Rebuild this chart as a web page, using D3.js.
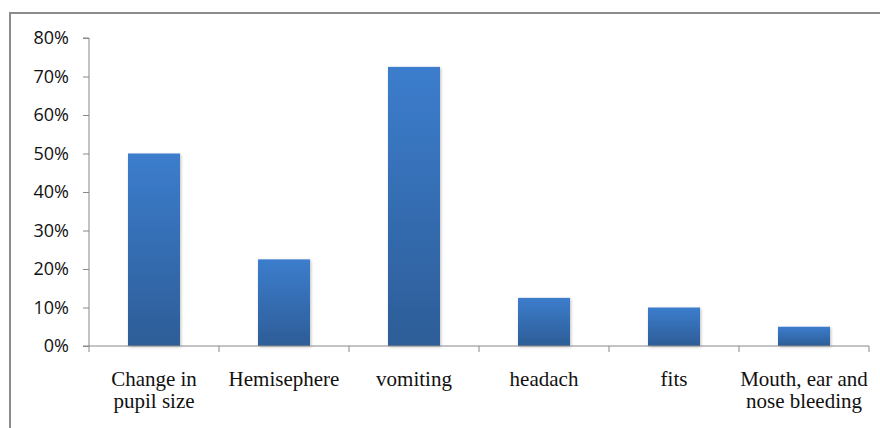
<!DOCTYPE html>
<meta charset="utf-8">
<style>
  body { margin: 0; background: #fff; }
</style>
<script src="https://d3js.org/d3.v7.min.js"></script>
<div id="chart"></div>
<script>

// data
const categories = [["Change in", "pupil size"], ["Hemisephere"], ["vomiting"], ["headach"], ["fits"], ["Mouth, ear and", "nose bleeding"]];
const values = [0.50, 0.225, 0.725, 0.125, 0.10, 0.05];
const yTicks = [0, 0.1, 0.2, 0.3, 0.4, 0.5, 0.6, 0.7, 0.8];

const W = 880, H = 428;
const margin = {top: 38, right: 11, bottom: 82, left: 89},
    width = W - margin.left - margin.right,
    height = H - margin.top - margin.bottom;

const root = d3.select("#chart").append("svg")
    .attr("width", W)
    .attr("height", H);

// outer frame
root.append("rect")
    .attr("x", 10).attr("y", 13)
    .attr("width", W + 10).attr("height", H + 10)
    .attr("fill", "none")
    .attr("stroke", "#8c8c8c")
    .attr("stroke-width", 2);

const defs = root.append("defs");
const grad = defs.append("linearGradient")
    .attr("id", "barGrad")
    .attr("x1", 0).attr("y1", 0).attr("x2", 0).attr("y2", 1);
grad.append("stop").attr("offset", "0%").attr("stop-color", "#3c7dcd");
grad.append("stop").attr("offset", "100%").attr("stop-color", "#2d5d97");

const shadow = defs.append("filter").attr("id", "shadow")
    .attr("x", "-20%").attr("y", "-20%").attr("width", "140%").attr("height", "140%");
shadow.append("feDropShadow")
    .attr("dx", 1).attr("dy", 1).attr("stdDeviation", 1.5)
    .attr("flood-color", "#000").attr("flood-opacity", 0.25);

const svg = root.append("g")
    .attr("transform", `translate(${margin.left},${margin.top})`);

const x = d3.scaleBand()
    .domain(d3.range(categories.length))
    .range([0, width])
    .paddingInner(0.6)
    .paddingOuter(0.3);

const y = d3.scaleLinear()
    .domain([0, 0.8])
    .range([height, 0]);

// bars
svg.selectAll(".bar")
    .data(values)
    .join("rect")
    .attr("class", "bar")
    .attr("x", (d, i) => x(i))
    .attr("y", d => y(d))
    .attr("width", x.bandwidth())
    .attr("height", d => height - y(d))
    .attr("fill", "url(#barGrad)")
    .attr("filter", "url(#shadow)");

// y axis
const yAxis = svg.append("g")
    .call(d3.axisLeft(y).tickValues(yTicks).tickFormat(d3.format(".0%")).tickSize(6).tickPadding(14));
yAxis.select(".domain").attr("stroke", "#888").attr("d", `M-6,${height}H0V0H-6`);
yAxis.selectAll(".tick line").attr("stroke", "#888");
yAxis.selectAll(".tick text")
    .style("font-family", "'Open Sans', 'Liberation Sans', sans-serif")
    .style("font-size", "18px")
    .attr("fill", "#111");

// x axis with ticks between categories
const xAxis = svg.append("g")
    .attr("transform", `translate(0,${height})`);
xAxis.append("line")
    .attr("x1", 0).attr("x2", width)
    .attr("stroke", "#888");
const step = width / categories.length;
xAxis.selectAll(".sep")
    .data(d3.range(categories.length + 1))
    .join("line")
    .attr("class", "sep")
    .attr("x1", d => d * step).attr("x2", d => d * step)
    .attr("y1", 0).attr("y2", 6)
    .attr("stroke", "#888");

const labels = xAxis.selectAll(".lab")
    .data(categories)
    .join("text")
    .attr("class", "lab")
    .attr("text-anchor", "middle")
    .attr("transform", (d, i) => `translate(${x(i) + x.bandwidth() / 2},40)`)
    .style("font-family", "'Liberation Serif', 'Times New Roman', serif")
    .style("font-size", "21px")
    .attr("fill", "#111");
labels.selectAll("tspan")
    .data(d => d)
    .join("tspan")
    .attr("x", 0)
    .attr("dy", (d, i) => i === 0 ? 0 : 22)
    .text(d => d);

</script>
